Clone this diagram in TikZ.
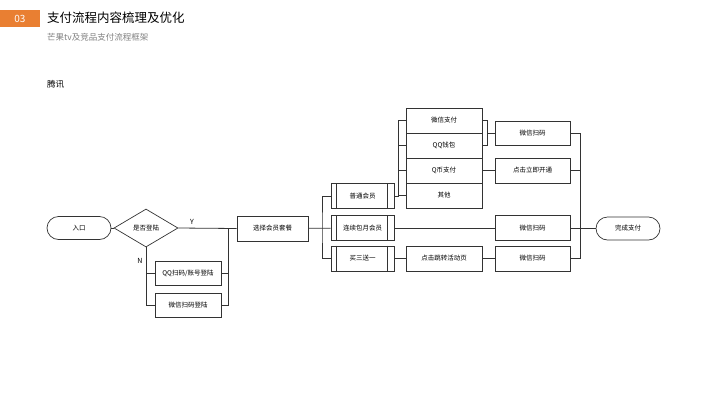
\documentclass[tikz,border=0pt]{standalone}
\usepackage{fontspec}
\setmainfont{Noto Sans CJK SC}
\usetikzlibrary{shapes.geometric}
\definecolor{org}{HTML}{E97F32}
\definecolor{ln}{HTML}{333333}
\begin{document}
\begin{tikzpicture}[x=1pt,y=-1pt,
  box/.style={draw=ln,line width=0.7pt,fill=white,minimum height=25pt,inner sep=0pt,font=\fontsize{6.5}{7}\selectfont},
  capsule/.style={box,rounded corners=11.5pt,minimum width=64pt,minimum height=23pt},
  pp/.style={box,minimum width=63pt,minimum height=25pt},
  ln/.style={draw=ln,line width=0.8pt}]
\useasboundingbox (0,0) rectangle (720,405);
\fill[org] (0,10) rectangle (40,27);
\node[white,font=\fontsize{10}{12}\selectfont] (no) at (20,18.5) {03};
\node[anchor=west,inner sep=0pt,font=\fontsize{12.5}{14}\selectfont] (ti) at (47,18) {支付流程内容梳理及优化};
\node[anchor=west,inner sep=0pt,text=gray,font=\fontsize{8.5}{10}\selectfont] (st) at (47,37) {芒果tv及竞品支付流程框架};
\node[anchor=west,inner sep=0pt,font=\fontsize{8.5}{10}\selectfont] (tx) at (47,84) {腾讯};
% nodes
\node[capsule] (in) at (79,228) {入口};
\node[draw=ln,line width=0.7pt,diamond,aspect=1.7,minimum width=64pt,minimum height=38pt,inner sep=0pt,font=\fontsize{6.5}{7}\selectfont] (d) at (146,228) {是否登陆};
\node[box,minimum width=66pt,minimum height=24pt] (qq) at (188,273) {QQ扫码/账号登陆};
\node[box,minimum width=66pt,minimum height=24pt] (wx) at (188,305) {微信扫码登陆};
\node[box,minimum width=71pt] (sel) at (272.5,228.5) {选择会员套餐};
\node[pp] (m1) at (362.5,196) {普通会员};
\node[pp] (m2) at (362.5,228) {连续包月会员};
\node[pp] (m3) at (362.5,258.5) {买三送一};
\foreach \n in {m1,m2,m3}{\draw[ln,line width=0.6pt] ([xshift=6pt]\n.north west)--([xshift=6pt]\n.south west) ([xshift=-7pt]\n.north east)--([xshift=-7pt]\n.south east);}
\node[box,minimum width=76pt] (p1) at (444,120.5) {微信支付};
\node[box,minimum width=76pt] (p2) at (444,145.5) {QQ钱包};
\node[box,minimum width=76pt] (p3) at (444,170.5) {Q币支付};
\node[box,minimum width=76pt] (p4) at (444,195.5) {其他};
\node[box,minimum width=76pt] (jp) at (444,258.5) {点击跳转活动页};
\node[box,minimum width=75pt,minimum height=24pt] (r1) at (532.5,133) {微信扫码};
\node[box,minimum width=75pt] (r2) at (532.5,170.5) {点击立即开通};
\node[box,minimum width=75pt] (r3) at (532.5,228) {微信扫码};
\node[box,minimum width=75pt] (r4) at (532.5,258.5) {微信扫码};
\node[capsule] (done) at (628,228.5) {完成支付};
\node[font=\fontsize{7}{8}\selectfont] (y) at (192,222) {Y};
\node[font=\fontsize{7}{8}\selectfont] (n) at (140,261) {N};
% connectors
\coordinate (c1) at (228,228);
\draw[ln] (in)--(d);
\draw[ln] (d.east)--(sel.west);
\draw[ln] (d.south)|-(qq.west);
\draw[ln] (d.south)|-(wx.west);
\draw[ln] (qq.east)-|(c1);
\draw[ln] (wx.east)-|(c1);
\coordinate (c2) at (322,228);
\draw[ln] (sel)--(m2);
\draw[ln] (m1.west)-|(c2)|-(m3.west);
\draw[ln] (m2)--(r3);
\coordinate (c3) at (398,196);
\foreach \p in {p1,p2,p3,p4}{\draw[ln] (m1.east)-|(c3)|-(\p.west);}
\coordinate (c4) at (487,133);
\draw[ln] (p1.east)-|(c4)--(r1.west);
\draw[ln] (p2.east)-|(c4);
\draw[ln] (p3)--(r2);
\draw[ln] (m3)--(jp);
\draw[ln] (jp)--(r4);
\coordinate (c5) at (580,228.5);
\foreach \r in {r1,r2,r3,r4}{\draw[ln] (\r.east)-|(c5);}
\draw[ln] (c5)--(done.west);
\end{tikzpicture}
\end{document}
